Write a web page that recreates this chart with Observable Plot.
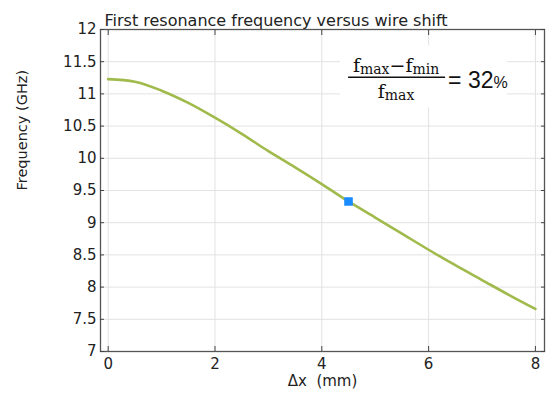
<!DOCTYPE html>
<html>
<head>
<meta charset="utf-8">
<script src="https://cdn.jsdelivr.net/npm/d3@7"></script>
<script src="https://cdn.jsdelivr.net/npm/@observablehq/plot@0.6"></script>
<style>
  html, body { margin: 0; padding: 0; background: #fff; }
  #chart svg { display: block; }
</style>
</head>
<body>
<div id="chart"></div>
<script>
// ---- data ----
const shiftMm = [0, 0.5, 1, 1.5, 2, 2.5, 3, 3.5, 4, 4.5, 5, 5.5, 6, 6.5, 7, 7.5, 8];
const freqGHz = [11.23, 11.19, 11.05, 10.86, 10.63, 10.38, 10.11, 9.86, 9.60, 9.33, 9.08, 8.83, 8.58, 8.34, 8.11, 7.88, 7.66];
const markerX = [4.5];
const markerY = [9.33];
const xTicks = [0, 2, 4, 6, 8];
const yTicks = [7, 7.5, 8, 8.5, 9, 9.5, 10, 10.5, 11, 11.5, 12];
const yTickLabels = ["7", "7.5", "8", "8.5", "9", "9.5", "10", "10.5", "11", "11.5", "12"];
const titleText = "First resonance frequency versus wire shift";
const xLabel = "\u0394x  (mm)";
const yLabel = "Frequency (GHz)";
const formulaPercent = "32";
const formulaAnchor = [5.4, 11.25]; // data coords of fraction bar centre

const curve = shiftMm.map((x, i) => ({x, y: freqGHz[i]}));
const marker = markerX.map((x, i) => ({x, y: markerY[i]}));

const chart = Plot.plot({
  width: 548,
  height: 400,
  marginLeft: 100,
  marginRight: 4,
  marginTop: 29,
  marginBottom: 49,
  style: {fontFamily: "DejaVu Sans", background: "#fff", color: "#222"},
  x: {domain: [-0.144, 8.17]},
  y: {domain: [7, 12]},
  marks: [
    Plot.gridX(xTicks, {stroke: "#e2e2e2", strokeOpacity: 1}),
    Plot.gridY(yTicks, {stroke: "#e2e2e2", strokeOpacity: 1}),
    Plot.frame({stroke: "#555", strokeWidth: 1.3}),
    // inward ticks on all four sides
    Plot.axisX(xTicks, {anchor: "bottom", tickSize: -5, text: null, label: null, stroke: "#444"}),
    Plot.axisX(xTicks, {anchor: "top", tickSize: -5, text: null, label: null, stroke: "#444"}),
    Plot.axisY(yTicks, {anchor: "left", tickSize: -4, text: null, label: null, stroke: "#444"}),
    Plot.axisY(yTicks, {anchor: "right", tickSize: -4, text: null, label: null, stroke: "#444"}),
    // tick labels
    Plot.axisX(xTicks, {anchor: "bottom", tickSize: 0, tickPadding: 7, fontSize: 15, label: null, fill: "#222"}),
    Plot.axisY(yTicks, {anchor: "left", tickSize: 0, tickPadding: 4, fontSize: 15, label: null, fill: "#222",
      tickFormat: (d) => yTickLabels[yTicks.indexOf(d)]}),
    // curve and marker
    Plot.line(curve, {x: "x", y: "y", stroke: "#a0ba4c", strokeWidth: 2.6, curve: "monotone-x"}),
    Plot.dot(marker, {x: "x", y: "y", symbol: "square", fill: "#1a8cff", stroke: "#1a8cff", r: 4}),
    // texts
    Plot.text([titleText], {frameAnchor: "top-left", textAnchor: "start", dx: 4, dy: -15, fontSize: 16, fill: "#222"}),
    Plot.text([xLabel], {frameAnchor: "bottom", dy: 34, fontSize: 15, fill: "#222"}),
    Plot.text([yLabel], {frameAnchor: "left", rotate: -90, dx: -78, fontSize: 14.5, fill: "#222"})
  ]
});

document.getElementById("chart").append(chart);

// ---- formula annotation, placed via the chart's scales ----
const sx = chart.scale("x"), sy = chart.scale("y");
const cx = sx.apply(formulaAnchor[0]);
const by = sy.apply(formulaAnchor[1]);
const svg = d3.select(chart);
const g = svg.append("g");
g.append("rect").attr("x", cx - 56).attr("y", by - 32).attr("width", 167).attr("height", 62).attr("fill", "#fff");
const serif = "DejaVu Serif";
const num = g.append("text").attr("x", cx).attr("y", by - 5).attr("text-anchor", "middle")
  .attr("font-family", serif).attr("fill", "#111");
num.append("tspan").attr("font-size", 19).text("f");
num.append("tspan").attr("font-size", 14).attr("dy", 2).text("max");
num.append("tspan").attr("font-size", 19).attr("dy", -2).attr("font-family", "DejaVu Sans").text("\u2212");
num.append("tspan").attr("font-size", 19).text("f");
num.append("tspan").attr("font-size", 14).attr("dy", 2).text("min");
g.append("line").attr("x1", cx - 48).attr("x2", cx + 49).attr("y1", by).attr("y2", by)
  .attr("stroke", "#111").attr("stroke-width", 1.4);
const den = g.append("text").attr("x", cx).attr("y", by + 21).attr("text-anchor", "middle")
  .attr("font-family", serif).attr("fill", "#111");
den.append("tspan").attr("font-size", 19).text("f");
den.append("tspan").attr("font-size", 14).attr("dy", 2).text("max");
const eq = g.append("text").attr("x", cx + 52).attr("y", by + 11).attr("text-anchor", "start")
  .attr("font-family", "Liberation Sans").attr("fill", "#111");
eq.append("tspan").attr("font-size", 23).text("= " + formulaPercent);
eq.append("tspan").attr("font-size", 16).text("%");
</script>
</body>
</html>
